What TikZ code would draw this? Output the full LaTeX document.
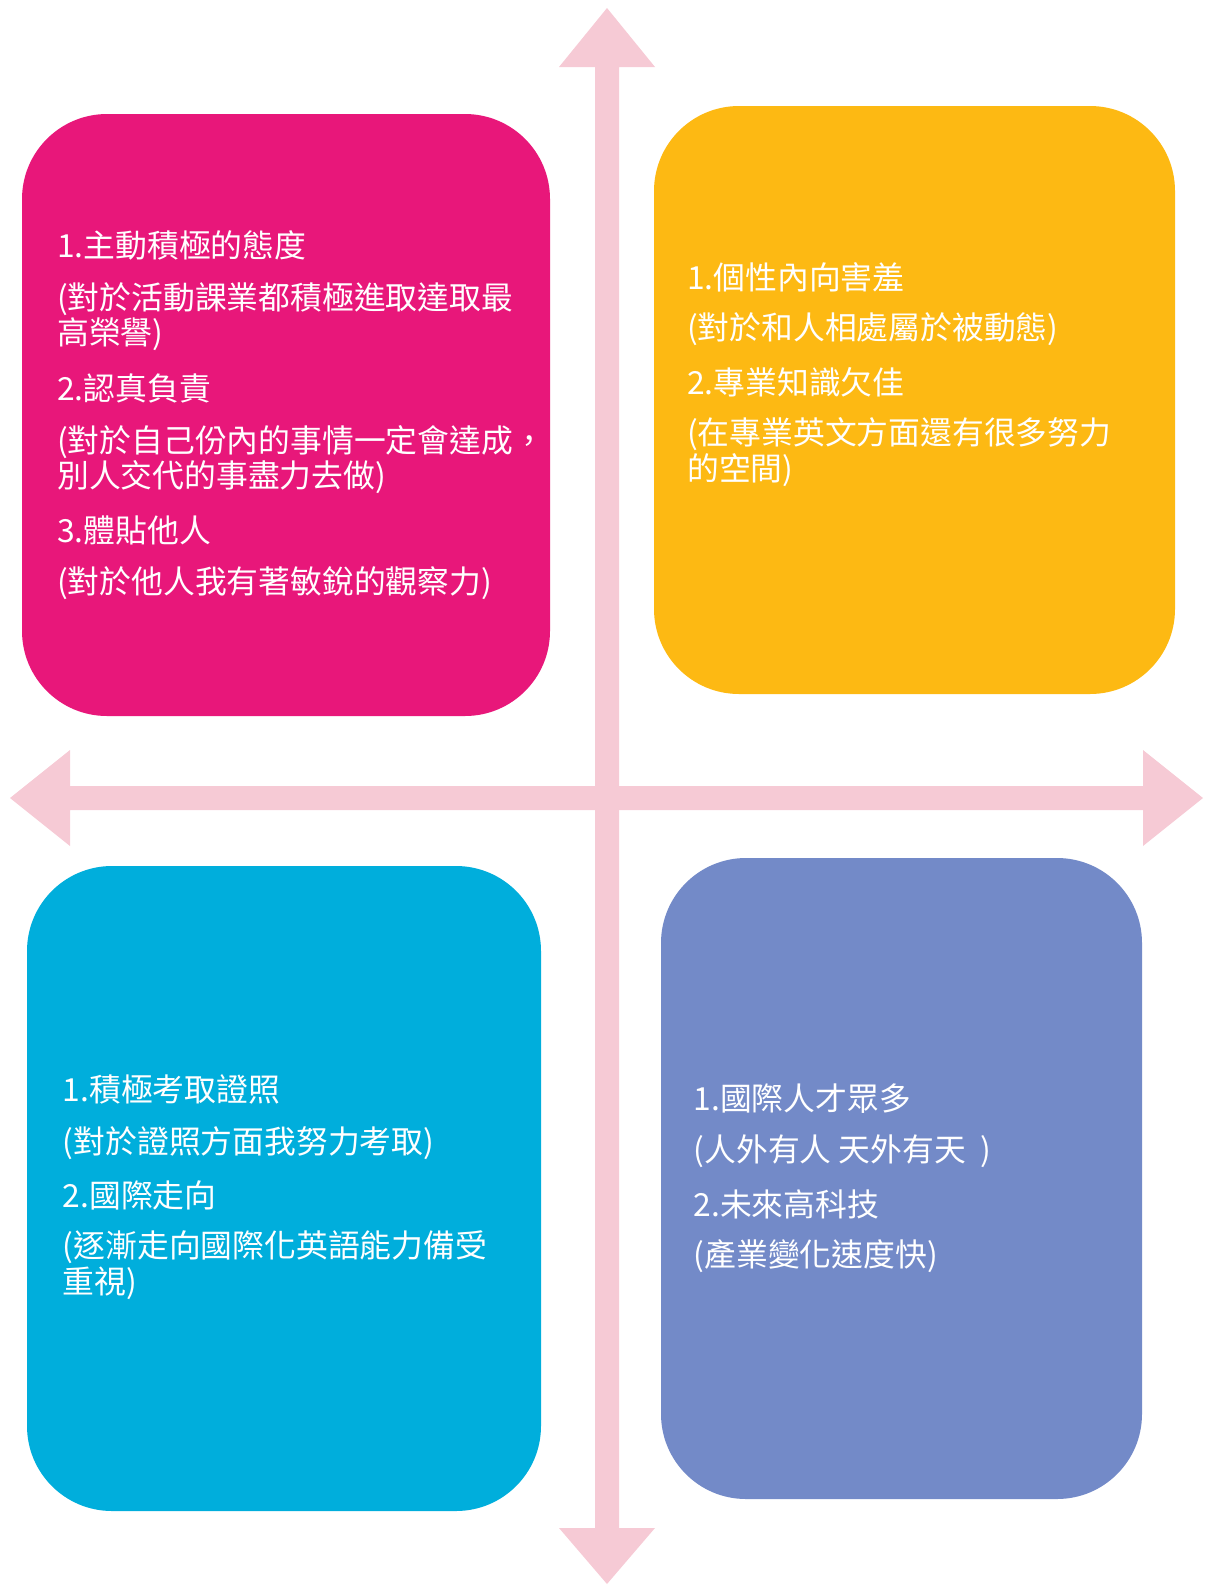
\documentclass[tikz,border=0pt]{standalone}
\usepackage{fontspec}
\newfontfamily\cjk{Noto Sans CJK TC}
\definecolor{pinkbox}{HTML}{E8177A}
\definecolor{orangebox}{HTML}{FDB913}
\definecolor{cyanbox}{HTML}{00AEDC}
\definecolor{purplebox}{HTML}{738AC8}
\definecolor{axispink}{HTML}{F6CAD5}
\tikzset{
  quad/.style={rectangle, rounded corners=85pt, inner sep=0pt, draw=none},
  txt/.style={anchor=west, inner sep=0pt, text=white, font=\cjk\fontsize{31.8pt}{38pt}\selectfont}
}
\begin{document}
\begin{tikzpicture}[x=1pt,y=-1pt]
\useasboundingbox (0,0) rectangle (1206,1585);
% axes
\fill[axispink] (10,798) -- (70,750) -- (70,786) -- (1143,786) -- (1143,750) -- (1203,798)
  -- (1143,846) -- (1143,810) -- (70,810) -- (70,846) -- cycle;
\fill[axispink] (607,8) -- (655,67) -- (619,67) -- (619,1528) -- (655,1528) -- (607,1584)
  -- (559,1528) -- (595,1528) -- (595,67) -- (559,67) -- cycle;
% boxes
\node[quad, fill=pinkbox, minimum width=528pt, minimum height=602pt] (q1) at (286,415) {};
\node[quad, fill=orangebox, minimum width=521pt, minimum height=588pt] (q2) at (914.5,400) {};
\node[quad, fill=cyanbox, minimum width=514pt, minimum height=645pt] (q3) at (284,1188.5) {};
\node[quad, fill=purplebox, minimum width=481pt, minimum height=641pt] (q4) at (901.5,1178.5) {};
% pink text
\node[txt] (p1) at (57,245.6) {1.主動積極的態度};
\node[txt] (p2) at (57,299.2) {(對於活動課業都積極進取達取最};
\node[txt] (p3) at (57,334.6) {高榮譽)};
\node[txt] (p4) at (57,388.2) {2.認真負責};
\node[txt] (p5) at (57,441.8) {(對於自己份內的事情一定會達成，};
\node[txt] (p6) at (57,477.2) {別人交代的事盡力去做)};
\node[txt] (p7) at (57,530.7) {3.體貼他人};
\node[txt] (p8) at (57,583.3) {(對於他人我有著敏銳的觀察力)};
% orange text
\node[txt] (o1) at (687,277) {1.個性內向害羞};
\node[txt] (o2) at (687,329.6) {(對於和人相處屬於被動態)};
\node[txt] (o3) at (687,382) {2.專業知識欠佳};
\node[txt] (o4) at (687,433.7) {(在專業英文方面還有很多努力};
\node[txt] (o5) at (687,470) {的空間)};
% cyan text
\node[txt] (c1) at (62.7,1089.8) {1.積極考取證照};
\node[txt] (c2) at (62.7,1143.3) {(對於證照方面我努力考取)};
\node[txt] (c3) at (62.7,1195.9) {2.國際走向};
\node[txt] (c4) at (62.7,1247.5) {(逐漸走向國際化英語能力備受};
\node[txt] (c5) at (62.7,1282.8) {重視)};
% purple text
\node[txt] (u1) at (693.5,1098.8) {1.國際人才眾多};
\node[txt] (u2) at (693.5,1151.4) {(人外有人 天外有天\ \ )};
\node[txt] (u3) at (693.5,1204) {2.未來高科技};
\node[txt] (u4) at (693.5,1256.5) {(產業變化速度快)};
\end{tikzpicture}
\end{document}
